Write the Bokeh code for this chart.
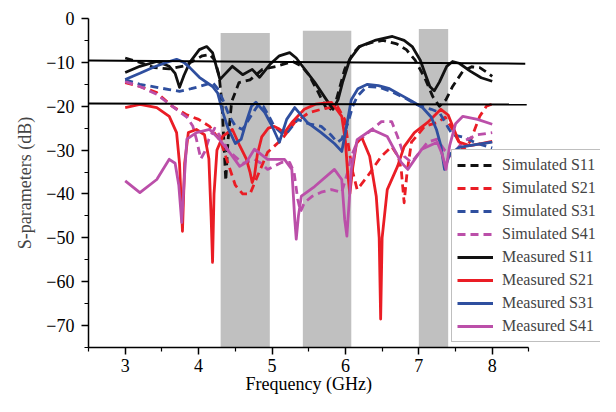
from bokeh.plotting import figure
from bokeh.models import Legend, LegendItem, FixedTicker, Range1d, LinearAxis
from bokeh.embed import file_html
from bokeh.resources import INLINE

# ---------------- data ----------------
sim_s11_f = [3.0, 3.2, 3.4, 3.6, 3.8, 3.95, 4.05, 4.15, 4.22, 4.28, 4.32, 4.35, 4.37, 4.4, 4.45, 4.55, 4.7, 4.87,
             5.06, 5.28, 5.4, 5.5, 5.62, 5.76, 5.86, 5.99, 6.1, 6.19, 6.35, 6.51, 6.7, 6.83, 6.95, 7.08, 7.19,
             7.28, 7.37, 7.46, 7.6, 7.72, 7.83, 7.92, 8.0]
sim_s11_db = [-9.0, -10.0, -11.2, -11.5, -10.8, -9.5, -8.5, -8.2, -9.5, -13.0, -20.0, -30.0, -37.0, -28.0, -19.0,
              -14.6, -14.0, -11.6, -10.9, -9.8, -10.8, -12.8, -16.5, -21.2, -19.5, -11.6, -8.0, -6.4, -5.5, -5.0,
              -5.8, -7.1, -9.5, -13.5, -17.8, -20.0, -18.5, -15.5, -12.0, -11.0, -11.2, -12.2, -13.2]

sim_s21_f = [3.0, 3.2, 3.43, 3.64, 3.83, 4.0, 4.15, 4.3, 4.4, 4.5, 4.6, 4.7, 4.8, 4.94, 5.13, 5.31, 5.5, 5.67,
             5.89, 5.99, 6.05, 6.1, 6.16, 6.3, 6.49, 6.63, 6.72, 6.76, 6.8, 6.84, 6.9, 7.08, 7.25, 7.36, 7.46,
             7.6, 7.7, 7.83, 7.92, 8.0]
sim_s21_db = [-14.6, -15.5, -16.9, -20.0, -21.9, -23.0, -24.6, -28.0, -33.0, -38.0, -40.0, -40.0, -36.0, -30.5,
              -27.6, -23.7, -21.5, -20.7, -20.0, -23.0, -30.0, -35.0, -39.0, -36.0, -31.4, -29.2, -31.5, -34.4,
              -42.0, -35.0, -28.2, -24.6, -23.7, -22.5, -25.3, -30.0, -28.0, -22.3, -20.0, -19.5]

sim_s31_f = [3.0, 3.2, 3.43, 3.6, 3.74, 3.9, 4.01, 4.19, 4.26, 4.33, 4.42, 4.5, 4.6, 4.72, 4.82, 4.88, 4.95, 5.03,
             5.12, 5.21, 5.35, 5.5, 5.67, 5.8, 5.89, 5.95, 6.03, 6.1, 6.16, 6.29, 6.46, 6.6, 6.8, 6.97, 7.17,
             7.28, 7.39, 7.46, 7.6, 7.8, 8.0]
sim_s31_db = [-14.0, -15.0, -15.7, -16.2, -16.6, -16.0, -15.5, -14.6, -16.0, -18.5, -22.3, -24.5, -25.3, -22.0,
              -19.5, -20.0, -22.0, -24.6, -26.0, -26.0, -23.0, -24.0, -24.6, -26.5, -28.2, -27.5, -24.0, -20.0,
              -17.8, -15.5, -15.7, -16.5, -18.0, -19.6, -20.7, -21.4, -24.6, -26.5, -27.0, -28.5, -29.5]

sim_s41_f = [3.0, 3.2, 3.43, 3.64, 3.84, 3.92, 3.97, 4.03, 4.08, 4.14, 4.22, 4.3, 4.4, 4.5, 4.6, 4.7, 4.76, 4.85,
             4.94, 5.13, 5.24, 5.3, 5.35, 5.39, 5.44, 5.55, 5.67, 5.81, 5.95, 6.03, 6.08, 6.16, 6.36, 6.49, 6.63,
             6.71, 6.8, 6.9, 7.12, 7.25, 7.35, 7.45, 7.6, 7.8, 8.0]
sim_s41_db = [-14.4, -15.5, -17.3, -20.0, -22.5, -24.5, -27.5, -32.0, -30.5, -27.5, -25.0, -27.0, -30.0, -31.5,
              -33.0, -32.5, -32.1, -33.0, -34.4, -32.8, -32.8, -35.0, -41.2, -44.0, -42.0, -40.5, -39.6, -39.0,
              -39.6, -35.0, -31.4, -28.2, -25.3, -23.5, -23.5, -26.9, -31.4, -32.8, -28.2, -27.5, -30.0, -31.5,
              -28.0, -26.5, -26.0]

mea_s11_f = [3.0, 3.2, 3.43, 3.6, 3.68, 3.74, 3.8, 3.88, 4.01, 4.11, 4.19, 4.25, 4.29, 4.33, 4.46, 4.6, 4.73,
             4.83, 4.97, 5.1, 5.24, 5.33, 5.42, 5.58, 5.74, 5.83, 5.9, 5.96, 6.06, 6.19, 6.4, 6.64, 6.8, 6.91,
             7.02, 7.1, 7.15, 7.21, 7.28, 7.38, 7.46, 7.55, 7.7, 7.85, 8.0]
mea_s11_db = [-12.3, -10.9, -9.8, -10.9, -12.5, -15.7, -13.0, -10.0, -7.1, -6.4, -7.8, -11.5, -13.9, -13.2,
              -10.9, -12.8, -11.6, -13.4, -10.5, -8.5, -7.8, -9.0, -11.0, -14.5, -18.5, -20.7, -18.5, -14.6,
              -9.3, -6.4, -5.0, -4.1, -5.0, -6.4, -9.5, -13.2, -15.5, -16.5, -14.5, -10.9, -9.8, -10.2, -12.0,
              -13.5, -14.3]

mea_s21_f = [3.0, 3.2, 3.43, 3.6, 3.7, 3.74, 3.78, 3.81, 3.86, 3.97, 4.08, 4.14, 4.17, 4.19, 4.21, 4.25, 4.33,
             4.46, 4.56, 4.65, 4.7, 4.73, 4.76, 4.8, 4.86, 4.95, 5.03, 5.1, 5.17, 5.27, 5.44, 5.6, 5.81, 5.95,
             6.0, 6.03, 6.06, 6.1, 6.15, 6.22, 6.33, 6.42, 6.46, 6.48, 6.5, 6.57, 6.71, 6.8, 6.94, 7.12, 7.3,
             7.4, 7.55, 7.7, 7.85, 8.0]
mea_s21_db = [-20.3, -19.6, -20.3, -22.3, -26.0, -33.0, -48.5, -33.0, -26.0, -25.3, -26.5, -32.0, -45.0, -55.6,
              -40.0, -30.0, -26.8, -25.3, -29.0, -32.0, -35.0, -37.4, -36.0, -31.0, -27.0, -25.0, -24.6, -25.2,
              -26.0, -23.7, -20.7, -19.5, -19.1, -22.3, -28.0, -35.0, -40.0, -34.0, -28.5, -27.0, -31.4, -40.5,
              -50.0, -68.5, -50.0, -39.0, -33.7, -29.2, -26.0, -23.7, -20.7, -22.0, -28.2, -29.0, -28.5, -28.0]

mea_s31_f = [3.0, 3.2, 3.4, 3.6, 3.7, 3.8, 3.88, 4.01, 4.19, 4.26, 4.33, 4.4, 4.5, 4.58, 4.65, 4.72, 4.78, 4.9,
             5.0, 5.1, 5.2, 5.31, 5.48, 5.67, 5.85, 5.95, 6.0, 6.08, 6.17, 6.3, 6.45, 6.6, 6.74, 6.9, 7.05, 7.17,
             7.24, 7.3, 7.35, 7.42, 7.55, 7.75, 8.0]
mea_s31_db = [-13.9, -12.5, -11.0, -9.8, -9.3, -10.0, -11.2, -13.4, -15.5, -17.0, -21.4, -25.0, -28.5, -27.5,
              -23.5, -20.0, -19.1, -21.4, -24.5, -28.2, -23.0, -20.3, -23.7, -26.0, -28.5, -30.3, -26.0, -18.5,
              -16.0, -15.0, -15.3, -16.0, -17.3, -18.8, -20.3, -22.5, -25.3, -29.0, -34.4, -31.0, -29.4, -28.8,
              -28.2]

mea_s41_f = [3.0, 3.2, 3.43, 3.6, 3.68, 3.73, 3.77, 3.8, 3.84, 3.97, 4.15, 4.28, 4.42, 4.56, 4.65, 4.76, 4.94,
             5.17, 5.27, 5.31, 5.33, 5.36, 5.4, 5.58, 5.85, 5.95, 5.99, 6.02, 6.05, 6.08, 6.16, 6.36, 6.57, 6.76,
             6.85, 7.04, 7.25, 7.32, 7.37, 7.42, 7.5, 7.6, 7.8, 8.0]
mea_s41_db = [-37.0, -39.7, -36.7, -32.1, -33.0, -38.0, -46.5, -38.0, -27.5, -26.0, -25.3, -27.5, -30.5, -33.7,
              -32.8, -29.8, -32.1, -32.1, -34.4, -45.8, -50.3, -45.0, -40.5, -38.3, -34.4, -36.7, -45.8, -49.6,
              -42.0, -34.4, -27.6, -25.3, -26.9, -32.8, -34.4, -29.8, -28.2, -31.0, -34.4, -29.0, -24.0, -22.3,
              -23.0, -24.1]

# shaded bands
band_left = [4.3, 5.42, 7.0]
band_right = [4.97, 6.08, 7.4]
band_top = [-3.3, -2.8, -2.4]
band_bottom = [-75, -75, -75]

# horizontal reference lines
hline_x0 = [2.5, 2.5]
hline_x1 = [8.45, 8.47]
hline_y0 = [-9.6, -19.4]
hline_y1 = [-10.3, -19.6]

x_ticks = [3, 4, 5, 6, 7, 8]
x_minor = [2.5, 3.5, 4.5, 5.5, 6.5, 7.5, 8.5]
y_ticks = [0, -10, -20, -30, -40, -50, -60, -70]
y_minor = [-5, -15, -25, -35, -45, -55, -65, -75]

labels = ["Simulated S11", "Simulated S21", "Simulated S31", "Simulated S41",
          "Measured S11", "Measured S21", "Measured S31", "Measured S41"]
x_title = "Frequency (GHz)"
y_title = "S-parameters (dB)"

# ---------------- figure ----------------
FONT = "Liberation Serif"
BLACK = "#111111"
RED = "#ea1d25"
BLUE = "#2f4f9f"
MAG = "#bb4fa9"

p = figure(width=600, height=396, output_backend="svg", toolbar_location=None,
           x_range=Range1d(2.5, 9.475), y_range=Range1d(-75, 0),
           min_border_left=88, min_border_right=0, min_border_top=18, min_border_bottom=49)
p.outline_line_color = None
p.grid.visible = False
p.background_fill_color = "white"
p.border_fill_color = "white"

p.quad(left=band_left, right=band_right, top=band_top, bottom=band_bottom,
       fill_color="#c0c0c0", line_color=None)

series = [
    (sim_s11_f, sim_s11_db, BLACK, "dashed"),
    (sim_s21_f, sim_s21_db, RED, "dashed"),
    (sim_s31_f, sim_s31_db, BLUE, "dashed"),
    (sim_s41_f, sim_s41_db, MAG, "dashed"),
    (mea_s11_f, mea_s11_db, BLACK, "solid"),
    (mea_s21_f, mea_s21_db, RED, "solid"),
    (mea_s31_f, mea_s31_db, BLUE, "solid"),
    (mea_s41_f, mea_s41_db, MAG, "solid"),
]
renderers = []
for f, db, col, style in series:
    dash = "8 5" if style == "dashed" else "solid"
    r = p.line(f, db, line_color=col, line_width=2.8, line_dash=dash, line_join="round")
    renderers.append(r)

p.segment(x0=hline_x0, y0=hline_y0, x1=hline_x1, y1=hline_y1, line_color="black", line_width=2)

for ax in (p.xaxis[0], p.yaxis[0]):
    ax.axis_line_width = 1.5
    ax.axis_line_color = "black"
    ax.major_tick_line_color = "black"
    ax.minor_tick_line_color = "black"
    ax.major_tick_line_width = 1.5
    ax.minor_tick_line_width = 1.2
    ax.major_tick_in = 0
    ax.major_tick_out = 7
    ax.minor_tick_in = 0
    ax.minor_tick_out = 4
    ax.major_label_text_font = FONT
    ax.major_label_text_font_size = "18px"
    ax.major_label_text_color = "black"

p.xaxis.bounds = (2.5, 8.5)
p.xaxis.ticker = FixedTicker(ticks=x_ticks, minor_ticks=x_minor)
p.xaxis.major_label_standoff = 4
p.yaxis.bounds = (-75, 0)
p.yaxis.ticker = FixedTicker(ticks=y_ticks, minor_ticks=y_minor)
p.yaxis.major_label_standoff = 7
p.yaxis.axis_label = y_title
p.yaxis.axis_label_text_font = FONT
p.yaxis.axis_label_text_font_size = "18px"
p.yaxis.axis_label_text_font_style = "normal"
p.yaxis.axis_label_standoff = 8

# x title drawn as the single tick label of a bare second axis centred at 5.5 GHz
title_axis = LinearAxis(ticker=FixedTicker(ticks=[5.5], minor_ticks=[]),
                        major_label_overrides={5.5: x_title},
                        axis_line_color=None, major_tick_line_color=None, minor_tick_line_color=None,
                        major_tick_out=0, major_tick_in=0, minor_tick_out=0, minor_tick_in=0,
                        major_label_standoff=-1, bounds=(5.4, 5.6),
                        major_label_text_font=FONT, major_label_text_font_size="18px",
                        major_label_text_color="black")
p.add_layout(title_axis, "below")

legend = Legend(items=[LegendItem(label=l, renderers=[r]) for l, r in zip(labels, renderers)],
                location=(363, 5), orientation="vertical",
                label_text_font=FONT, label_text_font_size="16px",
                glyph_width=36, glyph_height=20, label_height=20, label_standoff=9,
                spacing=3, padding=5, margin=0,
                border_line_color="#808080", border_line_width=1,
                background_fill_color="white", background_fill_alpha=1.0)
p.add_layout(legend)

open("out.html", "w").write(file_html(p, INLINE))
